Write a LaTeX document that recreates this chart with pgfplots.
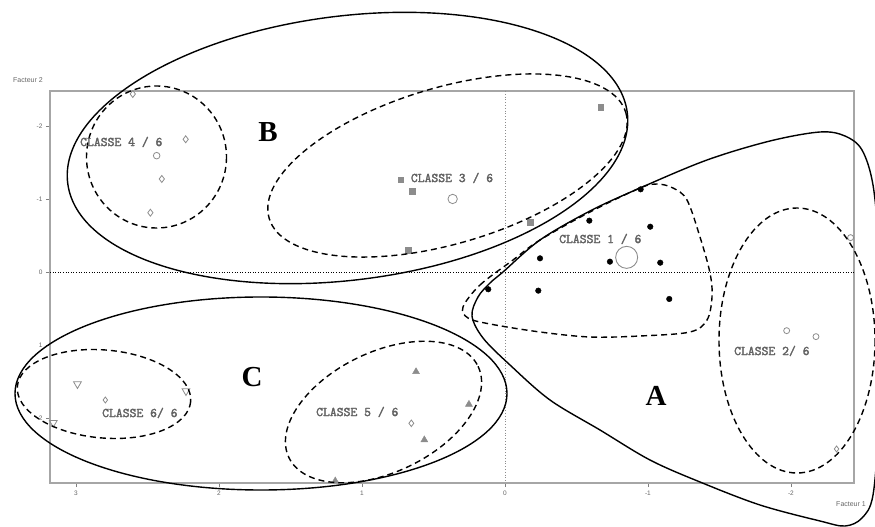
\documentclass[border=0pt]{standalone}
\usepackage{pgfplots}
\pgfplotsset{compat=1.18}
\usepackage{fontspec}
\setmainfont{Liberation Serif}
\newfontfamily\sansf{Liberation Sans}
\newfontfamily\monob{Latin Modern Mono}[FakeBold=2.2]
\begin{document}
\begin{tikzpicture}
\useasboundingbox (-50pt,-44pt) rectangle (825pt,483pt);
\begin{axis}[at={(0pt,0pt)}, anchor=south west, scale only axis,
  width=804pt, height=392pt,
  x filter/.expression={-x}, y filter/.expression={-y},
  xmin=-3.182, xmax=2.441, ymin=-2.881, ymax=2.489,
  axis line style={draw=black!35, line width=1.5pt},
  xtick={-3,-2,-1,0,1,2}, xticklabels={3,2,1,0,{-1},{-2}},
  ytick={-2,-1,0,1,2}, yticklabels={2,1,0,{-1},{-2}},
  tick pos=left, tick align=outside, major tick length=4pt,
  tick style={draw=black!50, line width=0.8pt},
  tick label style={font=\sansf\fontsize{6.5}{7}\selectfont, text=black!60},
  clip=false]
% zero lines
\addplot[black, dotted, line width=0.6pt] coordinates {(3.182,0) (-2.441,0)};
\addplot[black!45, dotted, line width=0.8pt] coordinates {(0,-2.489) (0,2.881)};
% Classe 4/6
\addplot[only marks, mark=diamond, mark size=3.5pt, draw=black!45, line width=0.8pt]
  coordinates {(2.603,-2.448) (2.233,-1.827) (2.400,-1.284) (2.480,-0.822)};
\addplot[only marks, mark=o, mark size=3.3pt, draw=black!45, line width=0.8pt]
  coordinates {(2.436,-1.603)};
% Classe 3/6
\addplot[only marks, mark=square*, mark size=2.6pt, draw=black!45, fill=black!45]
  coordinates {(0.729,-1.270) (-0.669,-2.266)};
\addplot[only marks, mark=square*, mark size=3pt, draw=black!45, fill=black!45]
  coordinates {(0.650,-1.120) (0.676,-0.311) (-0.175,-0.690)};
\addplot[only marks, mark=o, mark size=4.7pt, draw=black!45, line width=0.8pt]
  coordinates {(0.366,-1.010)};
% Classe 1/6
\addplot[only marks, mark=*, mark size=2.8pt, draw=black, fill=black]
  coordinates {(-0.949,-1.142) (-0.590,-0.713) (-1.016,-0.630) (-0.245,-0.197)
  (-0.734,-0.151) (-1.086,-0.137) (-0.233,0.246) (-1.149,0.360) (0.117,0.227)};
\addplot[only marks, mark=o, mark size=11pt, draw=black!45, line width=0.9pt]
  coordinates {(-0.851,-0.210)};
% Classe 2/6
\addplot[only marks, mark=o, mark size=3pt, draw=black!45, line width=0.8pt]
  coordinates {(-2.417,-0.480) (-1.970,0.794) (-2.175,0.876)};
\addplot[only marks, mark=diamond, mark size=3pt, draw=black!45, line width=0.8pt]
  coordinates {(-2.319,2.415)};
% Classe 6/6
\addplot[only marks, mark=triangle, mark size=4.5pt, mark options={rotate=180}, draw=black!45, line width=0.8pt]
  coordinates {(2.990,1.525) (2.231,1.621) (3.159,2.055)};
\addplot[only marks, mark=diamond, mark size=3pt, draw=black!45, line width=0.8pt]
  coordinates {(2.795,1.744)};
% Classe 5/6
\addplot[only marks, mark=triangle*, mark size=4pt, draw=black!45, fill=black!45]
  coordinates {(0.622,1.356) (0.252,1.803) (0.564,2.290) (1.187,2.853)};
\addplot[only marks, mark=diamond, mark size=3.3pt, draw=black!45, line width=0.8pt]
  coordinates {(0.655,2.063)};
\end{axis}
\begin{scope}[x=1pt, y=-1pt, shift={(-50pt,483pt)}]
\tikzset{solidc/.style={black, line width=1.4pt}, dashc/.style={black, line width=1.4pt, dash pattern=on 6pt off 4pt}}
% solid groups
\draw[solidc, rotate around={7.2:(347.5,148)}] (347.5,148) ellipse [x radius=282, y radius=132];
\draw[solidc] (261,393.5) ellipse [x radius=246, y radius=96.5];
\draw[solidc] plot[smooth cycle, tension=0.55] coordinates {
 (472,316) (478,297) (490,283) (503,272) (540,240) (590,211) (640,188) (707,160)
 (770,141) (820,132) (845,136) (862,150) (873,185) (879,250) (881,330) (879,420)
 (873,495) (862,518) (845,526) (820,521) (760,505) (700,482) (650,460) (600,430)
 (550,400) (510,365) (483,338)};
% dashed classes
\draw[dashc] (156.5,157) ellipse [x radius=70, y radius=71];
\draw[dashc, rotate around={16.5:(447.5,165.5)}] (447.5,165.5) ellipse [x radius=186, y radius=78];
\draw[dashc, rotate around={-5:(104,394)}] (104,394) ellipse [x radius=87, y radius=44];
\draw[dashc, rotate around={25.8:(383.5,412)}] (383.5,412) ellipse [x radius=105, y radius=60];
\draw[dashc] (797,340.5) ellipse [x radius=78, y radius=132.5];
\draw[dashc] plot[smooth cycle, tension=0.55] coordinates {
 (463,307) (480,285) (513,260) (540,240) (590,212) (640,188) (657,184) (673,188)
 (687,200) (700,237) (710,273) (712,297) (707,320) (690,332) (640,336) (590,337)
 (540,332) (490,324) (468,318)};
% labels
\begin{scope}[every node/.style={font=\monob\fontsize{13.3}{14}\selectfont, text=black!62, anchor=west, inner sep=0pt}]
\node at (80,142) {CLASSE 4 / 6};
\node at (410.7,178) {CLASSE 3 / 6};
\node at (559,239) {CLASSE 1 / 6};
\node at (734,351) {CLASSE 2/ 6};
\node at (102,413) {CLASSE 6/ 6};
\node at (316,412) {CLASSE 5 / 6};
\end{scope}
\begin{scope}[every node/.style={font=\bfseries\fontsize{29}{30}\selectfont, inner sep=0pt}]
\node at (268,132) {B};
\node at (252,377) {C};
\node at (656,396) {A};
\end{scope}
\node[font=\sansf\fontsize{7}{8}\selectfont, text=black!60, inner sep=0pt] at (28,80) {Facteur 2};
\node[font=\sansf\fontsize{7}{8}\selectfont, text=black!60, inner sep=0pt] at (851,504) {Facteur 1};
\end{scope}
\end{tikzpicture}
\end{document}
